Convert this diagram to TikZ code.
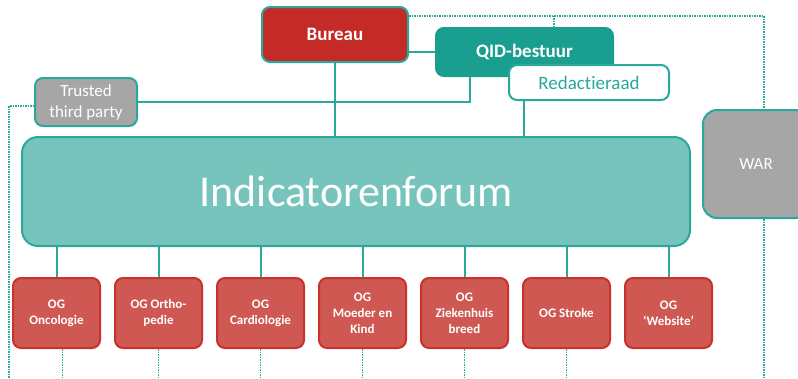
\documentclass[tikz,border=0pt]{standalone}
\usepackage{fontspec}
\setmainfont{Carlito}[Ligatures={NoCommon,NoRare}]
\usetikzlibrary{positioning}

\definecolor{lineteal}{RGB}{42,168,155}
\definecolor{qidteal}{RGB}{26,158,143}
\definecolor{forumfill}{RGB}{118,196,188}
\definecolor{bureaured}{RGB}{196,43,39}
\definecolor{ogfill}{RGB}{207,88,82}
\definecolor{ogborder}{RGB}{200,50,45}
\definecolor{boardgray}{RGB}{166,166,166}

\begin{document}
\begin{tikzpicture}[
  x=1pt, y=-1pt,
  % Boxes
  box/.style={rectangle, rounded corners=8pt, draw=lineteal, line width=2pt, align=center, inner sep=0pt},
  board/.style={box, fill=bureaured, text=white, font=\bfseries\fontsize{19}{22}\selectfont},
  grayBox/.style={box, fill=boardgray, text=white},
  ogbox/.style={box, draw=ogborder, fill=ogfill, text=white, font=\bfseries\fontsize{13}{16}\selectfont,
    minimum width=87pt, minimum height=70pt},
  % Connectors
  link/.style={lineteal, line width=2pt},
  dotlink/.style={lineteal, line width=1.5pt, densely dotted}
  ]
  \useasboundingbox (0,0) rectangle (798,378);

  % --- Governance ---
  \node[board, minimum width=146pt, minimum height=55pt] (Bureau) at (335,34.5) {Bureau};
  \node[box, draw=qidteal, fill=qidteal, text=white, font=\bfseries\fontsize{19}{22}\selectfont,
    minimum width=177pt, minimum height=48pt] (QID) at (524.5,52) {QID-bestuur};
  \node[box, fill=white, text=lineteal, font=\fontsize{19}{22}\selectfont,
    minimum width=160pt, minimum height=35pt] (Redac) at (589,82.5) {Redactieraad};
  \node[grayBox, font=\fontsize{17}{21}\selectfont, minimum width=102pt, minimum height=48pt]
    (TTP) at (86,102) {Trusted\\third party};

  % --- Forum and WAR ---
  \node[box, rounded corners=16pt, fill=forumfill, text=white, font=\fontsize{44}{50}\selectfont,
    minimum width=668pt, minimum height=109pt] (Forum) at (356,191.5) {Indicatorenforum};
  \node[grayBox, rounded corners=14pt, font=\fontsize{17}{20}\selectfont,
    minimum width=106pt, minimum height=108pt] (WAR) at (756,164) {WAR};

  % --- Working groups ---
  \node[ogbox] (OGonco) at (56.5,313) {OG\\Oncologie};
  \node[ogbox, right=13pt of OGonco] (OGortho) {OG Ortho-\\pedie};
  \node[ogbox, right=13pt of OGortho] (OGcardio) {OG\\Cardiologie};
  \node[ogbox, right=13pt of OGcardio] (OGmoeder) {OG\\Moeder en\\Kind};
  \node[ogbox, right=13pt of OGmoeder] (OGzkh) {OG\\Ziekenhuis\\breed};
  \node[ogbox, right=13pt of OGzkh] (OGstroke) {OG Stroke};
  \node[ogbox, right=13pt of OGstroke] (OGweb) {OG\\`Website'};

  % --- Free ends ---
  \coordinate (bottomEdge) at (0,378);
  \coordinate (leftRail) at (9,378);
  \coordinate (topRail) at ([yshift=-10pt]Bureau.north east);
  \coordinate (qidTop) at ([xshift=119pt]QID.north west);
  \coordinate (qidFoot) at ([xshift=35pt]QID.south west);
  \coordinate (redacFoot) at ([xshift=16pt]Redac.south west);
  \coordinate (warTop) at ([xshift=8pt]WAR.north);
  \coordinate (warFoot) at ([xshift=8pt]WAR.south);

  % Wiring governance
  \draw[link] (Bureau.south) -- (Bureau.south |- Forum.north);
  \draw[link] (QID.west) -- (QID.west -| Bureau.east);
  \draw[link] (TTP.east) -| (qidFoot);
  \draw[link] (redacFoot) -- (redacFoot |- Forum.north);

  % Dotted relations
  \draw[dotlink] (topRail) -| (warTop);
  \draw[dotlink] (qidTop) -- (qidTop |- topRail);
  \draw[dotlink] (warFoot) -- (warFoot |- bottomEdge);
  \draw[dotlink] ([yshift=-4pt]TTP.west) -| (leftRail);

  % Wiring working groups
  \draw[link] (OGonco.north) -- (OGonco.north |- Forum.south);
  \draw[link] (OGortho.north) -- (OGortho.north |- Forum.south);
  \draw[link] (OGcardio.north) -- (OGcardio.north |- Forum.south);
  \draw[link] (OGmoeder.north) -- (OGmoeder.north |- Forum.south);
  \draw[link] (OGzkh.north) -- (OGzkh.north |- Forum.south);
  \draw[link] (OGstroke.north) -- (OGstroke.north |- Forum.south);
  \draw[link] (OGweb.north) -- (OGweb.north |- Forum.south);

  \draw[dotlink] ([xshift=6pt]OGonco.south) -- ([xshift=6pt]OGonco.south |- bottomEdge);
  \draw[dotlink] (OGortho.south) -- (OGortho.south |- bottomEdge);
  \draw[dotlink] (OGcardio.south) -- (OGcardio.south |- bottomEdge);
  \draw[dotlink] (OGmoeder.south) -- (OGmoeder.south |- bottomEdge);
  \draw[dotlink] (OGzkh.south) -- (OGzkh.south |- bottomEdge);
  \draw[dotlink] (OGstroke.south) -- (OGstroke.south |- bottomEdge);

\end{tikzpicture}
\end{document}
